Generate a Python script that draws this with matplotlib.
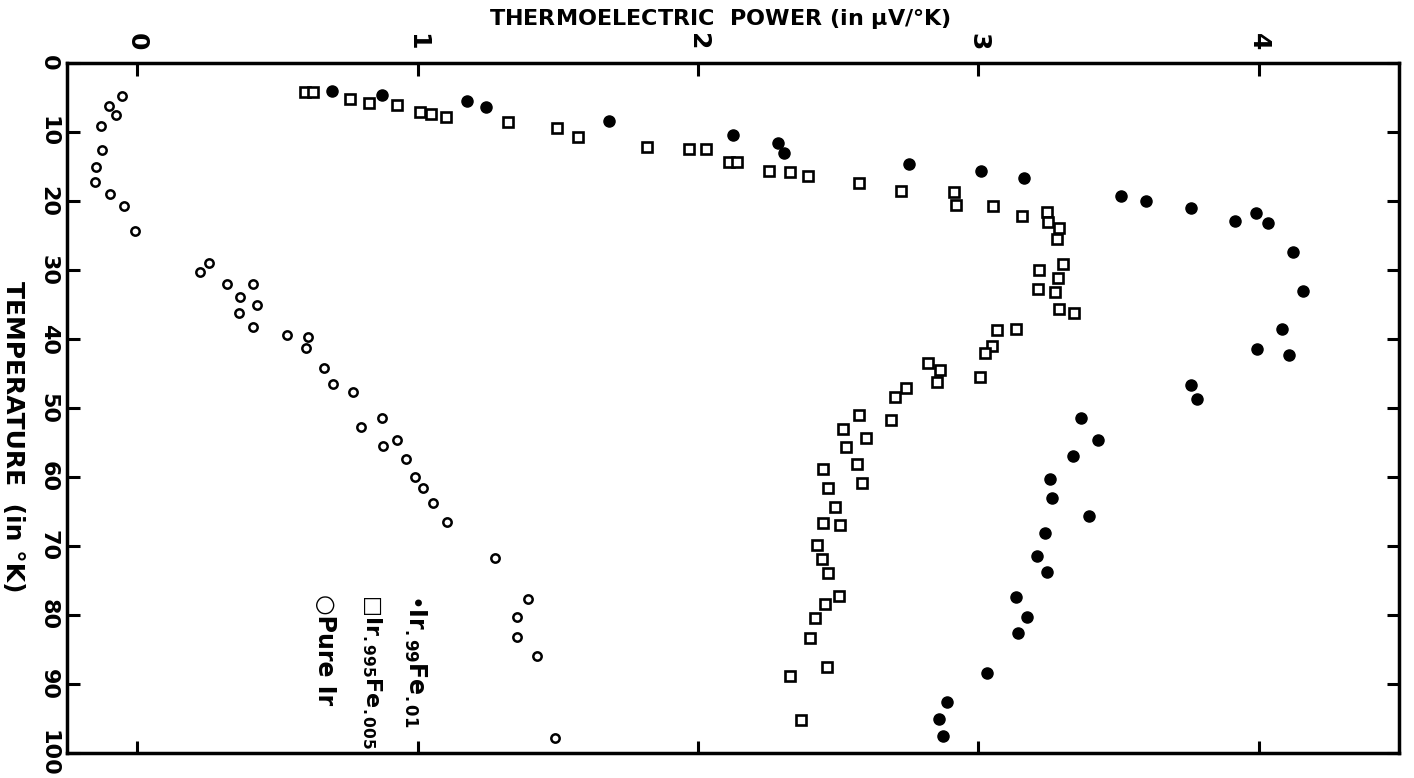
import numpy as np
import matplotlib
matplotlib.use('Agg')
import matplotlib.pyplot as plt

# pure Ir (open circles)
pure_x = [-0.053, -0.10, -0.075, -0.128, -0.125, -0.146, -0.15, -0.096, -0.046, -0.007,
          0.225, 0.257, 0.321, 0.414, 0.367, 0.428, 0.364, 0.414, 0.535, 0.610, 0.602,
          0.667, 0.699, 0.770, 0.799, 0.873, 0.877, 0.927, 0.959, 0.991, 1.020, 1.055,
          1.105, 1.276, 1.394, 1.355, 1.355, 1.426, 1.490]
pure_t = [4.8, 6.2, 7.5, 9.2, 12.6, 15.1, 17.3, 19.0, 20.7, 24.3,
          30.3, 29.0, 32.0, 32.0, 33.9, 35.1, 36.2, 38.3, 39.4, 39.7, 41.3,
          44.2, 46.5, 47.7, 52.8, 51.4, 55.5, 54.6, 57.4, 60.0, 61.6, 63.8,
          66.5, 71.7, 77.7, 80.3, 83.2, 85.9, 97.8]

# Ir.995 Fe.005 (open squares)
sq_x = [0.599, 0.627, 0.759, 0.827, 0.927, 1.009, 1.048, 1.102, 1.323, 1.497, 1.572,
        1.818, 1.968, 2.029, 2.111, 2.139, 2.253, 2.328, 2.392, 2.574, 2.724, 2.913,
        2.920, 3.052, 3.155, 3.244, 3.248, 3.287, 3.280, 3.301, 3.216, 3.283, 3.212,
        3.273, 3.287, 3.340, 3.066, 3.134, 3.048, 3.023, 3.005, 2.820, 2.863, 2.852,
        2.742, 2.702, 2.688, 2.574, 2.517, 2.599, 2.528, 2.567, 2.446, 2.585, 2.463,
        2.488, 2.446, 2.506, 2.424, 2.442, 2.463, 2.503, 2.453, 2.417, 2.399, 2.460,
        2.328, 2.367]
sq_t = [4.2, 4.2, 5.2, 5.8, 6.1, 7.1, 7.4, 7.8, 8.6, 9.4, 10.7,
        12.2, 12.5, 12.5, 14.3, 14.3, 15.7, 15.8, 16.4, 17.4, 18.6, 18.7,
        20.6, 20.7, 22.2, 21.6, 23.0, 23.9, 25.5, 29.1, 30.0, 31.2, 32.8,
        33.2, 35.7, 36.2, 38.7, 38.6, 41.0, 42.0, 45.5, 43.5, 44.5, 46.2,
        47.1, 48.4, 51.7, 51.0, 53.0, 54.3, 55.7, 58.1, 58.8, 60.9, 61.6,
        64.3, 66.7, 67.0, 69.9, 71.9, 73.9, 77.2, 78.4, 80.4, 83.3, 87.5,
        88.8, 95.2]

# Ir.99 Fe.01 (filled circles)
fe_x = [0.695, 0.873, 1.176, 1.244, 1.683, 2.125, 2.285, 2.307, 2.752, 3.009, 3.162,
        3.508, 3.597, 3.758, 3.914, 3.989, 4.032, 4.121, 4.157, 4.082, 3.993, 4.107,
        3.758, 3.779, 3.365, 3.426, 3.337, 3.255, 3.262, 3.394, 3.237, 3.209, 3.244,
        3.134, 3.173, 3.141, 3.030, 2.888, 2.859, 2.873]
fe_t = [4.1, 4.6, 5.5, 6.4, 8.4, 10.4, 11.6, 13.0, 14.6, 15.7, 16.7,
        19.3, 20.0, 21.0, 22.9, 21.7, 23.2, 27.4, 33.0, 38.6, 41.4, 42.3,
        46.7, 48.7, 51.4, 54.6, 57.0, 60.3, 63.0, 65.7, 68.1, 71.4, 73.8,
        77.4, 80.3, 82.6, 88.4, 92.6, 95.1, 97.5]

power_ticks = [0, 1, 2, 3, 4]
temp_ticks = [0, 10, 20, 30, 40, 50, 60, 70, 80, 90, 100]

fig = plt.figure(figsize=(14.14, 7.78), dpi=100)
ax = fig.add_axes([0.0474, 0.0321, 0.9420, 0.8869])

ax.plot(pure_x, pure_t, 'o', ms=6, mfc='white', mec='black', mew=1.8, ls='none')
ax.plot(sq_x, sq_t, 's', ms=7, mfc='white', mec='black', mew=1.9, ls='none')
ax.plot(fe_x, fe_t, 'o', ms=8, mfc='black', mec='black', ls='none')

ax.set_xlim(-0.25, 4.5)
ax.set_ylim(100, 0)

for s in ax.spines.values():
    s.set_linewidth(2.5)

ax.xaxis.set_ticks_position('both')
ax.xaxis.set_label_position('top')
ax.set_xticks(power_ticks)
ax.tick_params(axis='x', direction='in', length=9, width=2.2,
               labeltop=True, labelbottom=False, labelsize=18, pad=9,
               labelrotation=270)
ax.set_yticks(temp_ticks)
ax.tick_params(axis='y', direction='in', length=9, width=2.2,
               left=True, right=True, labelleft=True, labelright=False,
               labelsize=16, pad=6, labelrotation=270)
for lbl in ax.get_yticklabels() + ax.get_xticklabels():
    lbl.set_fontweight('bold')
for lbl in ax.get_yticklabels():
    lbl.set_verticalalignment('center')

fig.text(720 / 1414, 1 - 19 / 778, 'THERMOELECTRIC  POWER (in $\\mathbf{\\mu}$V/°K)',
         ha='center', va='center', fontsize=16, fontweight='bold')
fig.text(13 / 1414, 1 - 437 / 778, 'TEMPERATURE  (in °K)',
         ha='center', va='center', rotation=270, fontsize=18, fontweight='bold')

ax.text(0.99, 77.0, '•Ir$_{\\mathbf{.99}}$Fe$_{\\mathbf{.01}}$', rotation=270,
        ha='center', va='top', fontsize=17, fontweight='bold')
ax.text(0.838, 77.0, '□Ir$_{\\mathbf{.995}}$Fe$_{\\mathbf{.005}}$', rotation=270,
        ha='center', va='top', fontsize=16, fontweight='bold')
ax.text(0.67, 77.0, '○Pure Ir', rotation=270,
        ha='center', va='top', fontsize=17, fontweight='bold')

fig.savefig('out.png', dpi=100)
